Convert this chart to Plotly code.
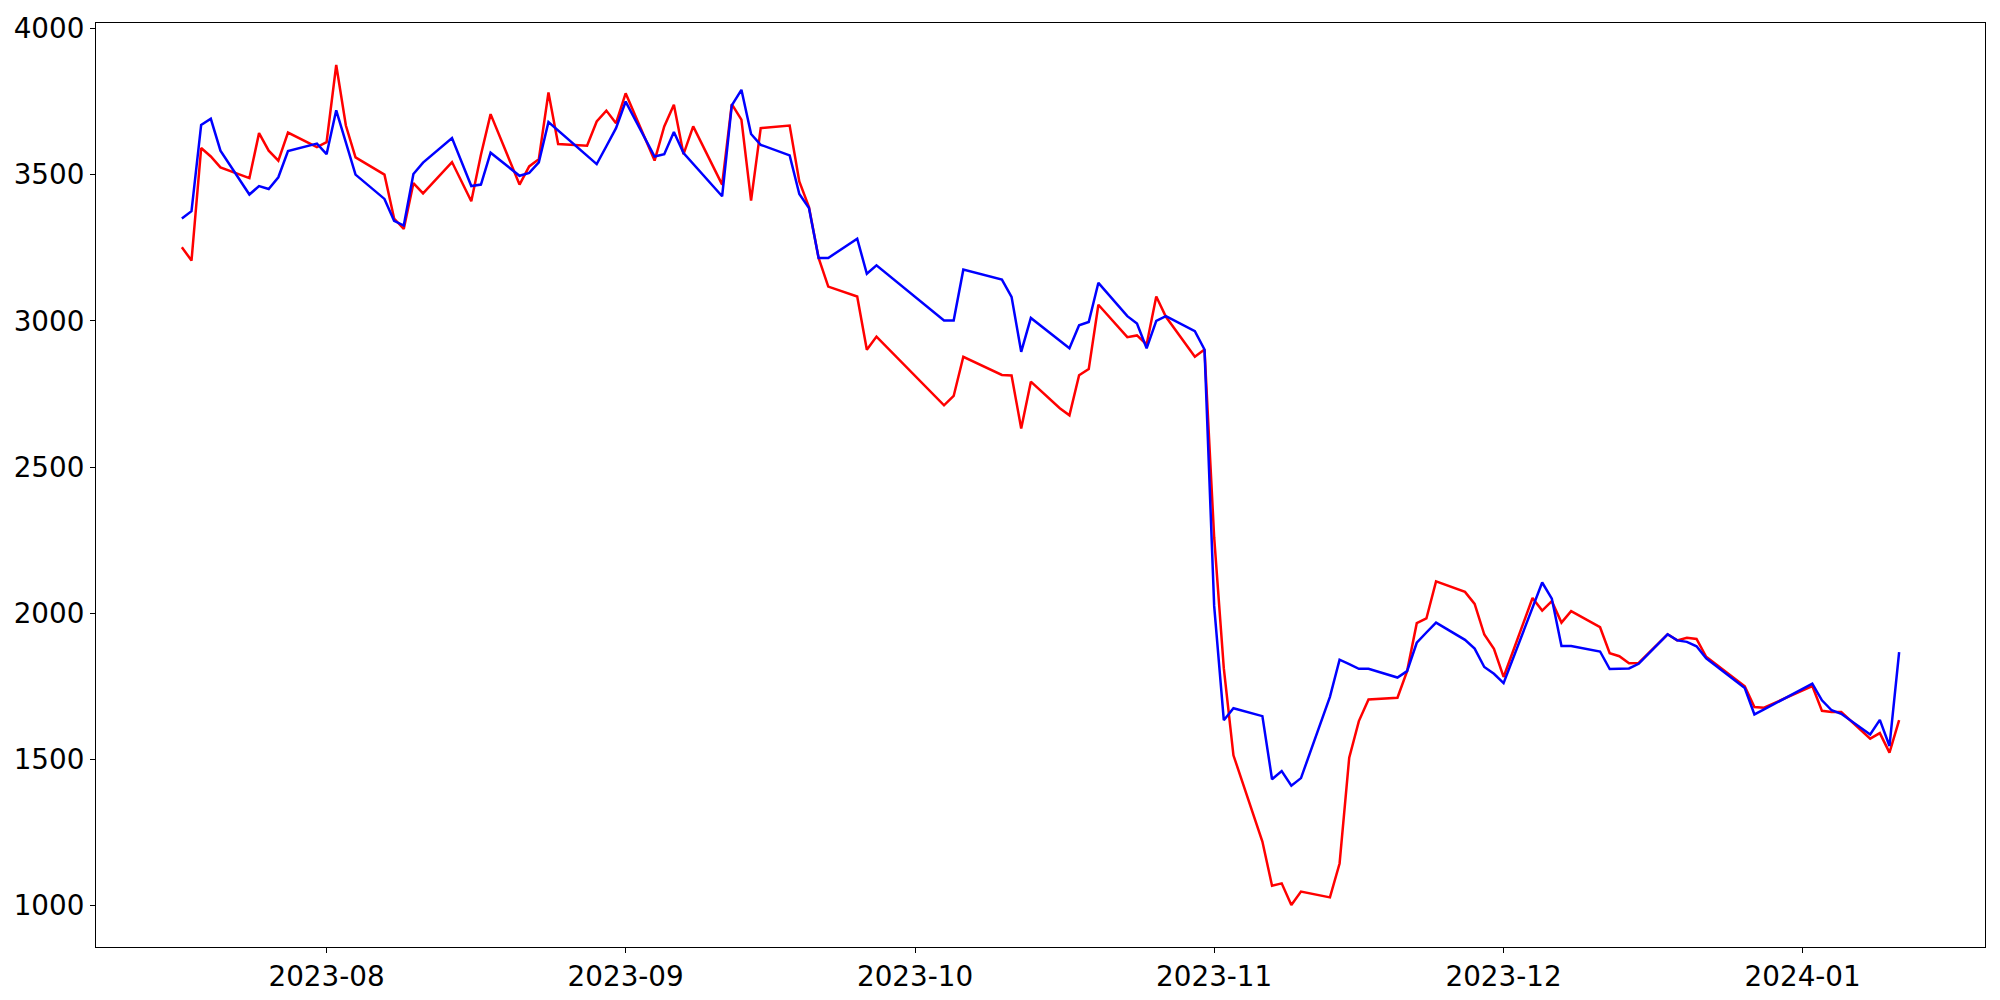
import pandas as pd
import plotly.graph_objects as go

dates = [
    "2023-07-17", "2023-07-18", "2023-07-19", "2023-07-20", "2023-07-21", "2023-07-24", "2023-07-25",
    "2023-07-26", "2023-07-27", "2023-07-28", "2023-07-31",
    "2023-08-01", "2023-08-02", "2023-08-03", "2023-08-04", "2023-08-07", "2023-08-08", "2023-08-09",
    "2023-08-10", "2023-08-11", "2023-08-14", "2023-08-16", "2023-08-17", "2023-08-18", "2023-08-21",
    "2023-08-22", "2023-08-23", "2023-08-24", "2023-08-25", "2023-08-28", "2023-08-29", "2023-08-30",
    "2023-08-31",
    "2023-09-01", "2023-09-04", "2023-09-05", "2023-09-06", "2023-09-07", "2023-09-08", "2023-09-11",
    "2023-09-12", "2023-09-13", "2023-09-14", "2023-09-15", "2023-09-18", "2023-09-19", "2023-09-20",
    "2023-09-21", "2023-09-22", "2023-09-25", "2023-09-26", "2023-09-27",
    "2023-10-04", "2023-10-05", "2023-10-06", "2023-10-10", "2023-10-11", "2023-10-12", "2023-10-13",
    "2023-10-16", "2023-10-17", "2023-10-18", "2023-10-19", "2023-10-20", "2023-10-23", "2023-10-24",
    "2023-10-25", "2023-10-26", "2023-10-27", "2023-10-30", "2023-10-31",
    "2023-11-01", "2023-11-02", "2023-11-03", "2023-11-06", "2023-11-07", "2023-11-08", "2023-11-09",
    "2023-11-10", "2023-11-13", "2023-11-14", "2023-11-15", "2023-11-16", "2023-11-17", "2023-11-20",
    "2023-11-21", "2023-11-22", "2023-11-23", "2023-11-24", "2023-11-27", "2023-11-28", "2023-11-29",
    "2023-11-30",
    "2023-12-01", "2023-12-04", "2023-12-05", "2023-12-06", "2023-12-07", "2023-12-08", "2023-12-11",
    "2023-12-12", "2023-12-13", "2023-12-14", "2023-12-15", "2023-12-18", "2023-12-19", "2023-12-20",
    "2023-12-21", "2023-12-22", "2023-12-26", "2023-12-27", "2023-12-28",
    "2024-01-02", "2024-01-03", "2024-01-04", "2024-01-05", "2024-01-08", "2024-01-09", "2024-01-10",
    "2024-01-11",
]

red_values = [
    3252, 3206, 3591, 3562, 3525, 3488, 3642, 3582, 3548, 3644, 3594,
    3611, 3875, 3668, 3559, 3500, 3350, 3314, 3471, 3436, 3543, 3409, 3568, 3707, 3466,
    3528, 3553, 3781, 3605, 3599, 3682, 3719, 3676,
    3778, 3548, 3665, 3739, 3570, 3665, 3466, 3741, 3688, 3411, 3659, 3668, 3477, 3389,
    3215, 3117, 3083, 2901, 2946,
    2711, 2743, 2877, 2815, 2813, 2632, 2792, 2701, 2677, 2814, 2835, 3055, 2944, 2950,
    2919, 3083, 3014, 2877, 2902,
    2260, 1812, 1514, 1219, 1068, 1076, 1002, 1048, 1028, 1144, 1506, 1631, 1705, 1711,
    1802, 1966, 1982, 2109, 2073, 2032, 1927, 1878,
    1782, 2052, 2009, 2041, 1968, 2007, 1952, 1863, 1853, 1829, 1830, 1928, 1907, 1916,
    1912, 1851, 1750, 1679, 1677,
    1751, 1666, 1662, 1662, 1571, 1590, 1523, 1634,
]

blue_values = [
    3350, 3375, 3670, 3691, 3582, 3432, 3461, 3451, 3491, 3581, 3606,
    3570, 3720, 3610, 3500, 3417, 3342, 3326, 3502, 3541, 3625, 3461, 3466, 3575, 3496,
    3506, 3542, 3680, 3651, 3565, 3536, 3597, 3659,
    3750, 3562, 3570, 3646, 3574, 3537, 3426, 3737, 3790, 3639, 3602, 3566, 3434, 3386,
    3215, 3215, 3281, 3161, 3190,
    3001, 3001, 3175, 3141, 3082, 2894, 3010, 2932, 2906, 2985, 2996, 3130, 3016, 2991,
    2906, 3000, 3016, 2965, 2902,
    2025, 1634, 1675, 1648, 1432, 1460, 1410, 1436, 1714, 1841, 1826, 1810, 1810, 1780,
    1802, 1899, 1934, 1968, 1909, 1879, 1816, 1793,
    1761, 2018, 2105, 2050, 1888, 1888, 1869, 1809, 1810, 1811, 1827, 1928, 1907, 1902,
    1887, 1846, 1744, 1654, 1671,
    1759, 1702, 1668, 1656, 1585, 1635, 1546, 1867,
]

x = pd.to_datetime(dates)

fig = go.Figure()
fig.add_trace(go.Scatter(x=x, y=red_values, mode="lines",
                         line=dict(color="#ff0000", width=2.5), showlegend=False))
fig.add_trace(go.Scatter(x=x, y=blue_values, mode="lines",
                         line=dict(color="#0000ff", width=2.5), showlegend=False))

# matplotlib-like 5% margins
xmin, xmax = x.min(), x.max()
xpad = (xmax - xmin) * 0.05
allv = red_values + blue_values
ymin, ymax = min(allv), max(allv)
ypad = (ymax - ymin) * 0.05

font = dict(family="DejaVu Sans", size=27.8, color="black")

fig.update_layout(
    width=2000, height=1000,
    margin=dict(l=96, r=15, t=23, b=53, pad=0),
    paper_bgcolor="white", plot_bgcolor="white",
    font=font,
)
fig.update_xaxes(
    range=[xmin - xpad, xmax + xpad], automargin=False,
    tickformat="%Y-%m", dtick="M1", tick0="2023-08-01",
    showgrid=False, zeroline=False,
    showline=True, mirror=True, linecolor="black", linewidth=1.1,
    ticks="outside", ticklen=5, tickwidth=1.1, tickcolor="black",
    tickfont=font,
)
fig.update_yaxes(
    range=[ymin - ypad, ymax + ypad], automargin=False,
    tickvals=[1000, 1500, 2000, 2500, 3000, 3500, 4000],
    showgrid=False, zeroline=False,
    showline=True, mirror=True, linecolor="black", linewidth=1.1,
    ticks="outside", ticklen=5, tickwidth=1.1, tickcolor="black",
    tickfont=font,
)

fig.write_html(
    "out.html",
    config={"displayModeBar": False},
    post_script="document.documentElement.style.margin='0';document.body.style.margin='0';"
                "document.documentElement.style.overflow='hidden';document.body.style.overflow='hidden';",
)
